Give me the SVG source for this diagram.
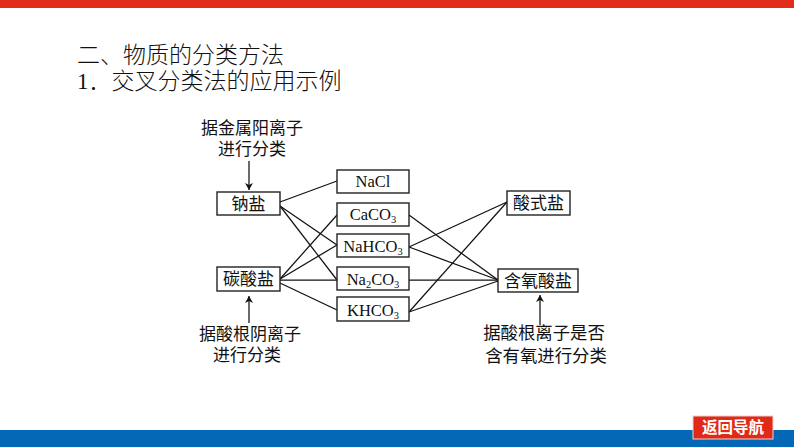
<svg xmlns="http://www.w3.org/2000/svg" width="794" height="447" viewBox="0 0 794 447">
<style>
text{font-family:"Liberation Serif","Noto Sans CJK SC",serif;fill:#111}
.t{font-size:23px;font-weight:300}
.l{font-size:17px;text-anchor:middle;font-weight:400}
.w{font-size:17.4px}
.f{font-size:16.5px;text-anchor:middle}
.b{fill:#fff;stroke:#222;stroke-width:1.4}
.c line{stroke:#111;stroke-width:1.25}
.s{font-size:10.5px}
</style>
<defs><marker id="a" markerWidth="8" markerHeight="10" refX="7" refY="4" orient="auto" markerUnits="userSpaceOnUse"><path d="M0 0L7 4L0 8L2 4Z" fill="#111"/></marker></defs>
<rect width="794" height="447" fill="#fff"/>
<rect width="794" height="8" fill="#e22c1c"/>
<rect y="430" width="794" height="17" fill="#0468b6"/>
<text class="t" x="77" y="63">二、物质的分类方法</text>
<text class="t" x="77" y="89">1．交叉分类法的应用示例</text>
<g id="connectors" class="c">
<line x1="280" y1="202" x2="337" y2="181"/>
<line x1="280" y1="206" x2="337" y2="245"/>
<line x1="280" y1="206" x2="337" y2="280"/>
<line x1="280" y1="279" x2="337" y2="215"/>
<line x1="280" y1="279" x2="337" y2="245"/>
<line x1="280" y1="280" x2="337" y2="280"/>
<line x1="280" y1="283" x2="337" y2="310"/>
<line x1="409" y1="215" x2="498" y2="280"/>
<line x1="409" y1="247" x2="507" y2="202"/>
<line x1="409" y1="247" x2="498" y2="280"/>
<line x1="409" y1="280" x2="498" y2="280"/>
<line x1="409" y1="312" x2="507" y2="202"/>
<line x1="409" y1="312" x2="498" y2="281"/>
<line x1="249" y1="161" x2="249" y2="190" marker-end="url(#a)"/>
<line x1="249" y1="323" x2="249" y2="296" marker-end="url(#a)"/>
<line x1="540" y1="325" x2="540" y2="295" marker-end="url(#a)"/>
</g>
<g id="n-top"><text class="l" x="252" y="134">据金属阳离子</text><text class="l" x="252" y="155">进行分类</text></g>
<g id="n-na"><rect class="b" x="217" y="192" width="63" height="23"/><text class="l" x="248.500" y="210">钠盐</text></g>
<g id="n-co3"><rect class="b" x="217" y="267" width="63" height="24"/><text class="l" x="248.500" y="285">碳酸盐</text></g>
<g id="n-nacl"><rect class="b" x="337" y="170" width="72" height="23"/><text class="f" x="373" y="187">NaCl</text></g>
<g id="n-caco3"><rect class="b" x="337" y="203" width="72" height="23"/><text class="f" x="373" y="220">CaCO<tspan class="s" dy="3">3</tspan></text></g>
<g id="n-nahco3"><rect class="b" x="337" y="234" width="72" height="23"/><text class="f" x="373" y="252">NaHCO<tspan class="s" dy="3">3</tspan></text></g>
<g id="n-na2co3"><rect class="b" x="337" y="267" width="72" height="23"/><text class="f" x="373" y="285">Na<tspan class="s" dy="3">2</tspan><tspan dy="-3">CO</tspan><tspan class="s" dy="3">3</tspan></text></g>
<g id="n-khco3"><rect class="b" x="337" y="297" width="72" height="24"/><text class="f" x="373" y="316">KHCO<tspan class="s" dy="3">3</tspan></text></g>
<g id="n-acid"><rect class="b" x="507" y="191" width="63" height="24"/><text class="l" x="538.500" y="209">酸式盐</text></g>
<g id="n-oxy"><rect class="b" x="498" y="269" width="80" height="23"/><text class="l" x="538" y="287">含氧酸盐</text></g>
<g id="n-bl"><text class="l" x="250" y="340">据酸根阴离子</text><text class="l" x="247" y="361">进行分类</text></g>
<g id="n-br"><text class="l w" x="544" y="339">据酸根离子是否</text><text class="l w" x="546" y="362">含有氧进行分类</text></g>
<g id="nav"><rect x="693" y="416" width="80" height="23" fill="#e02a17" stroke="#e6d5d5"/><text x="733" y="433" font-size="15.500" font-weight="700" text-anchor="middle" style="fill:#fff">返回导航</text></g>
</svg>
